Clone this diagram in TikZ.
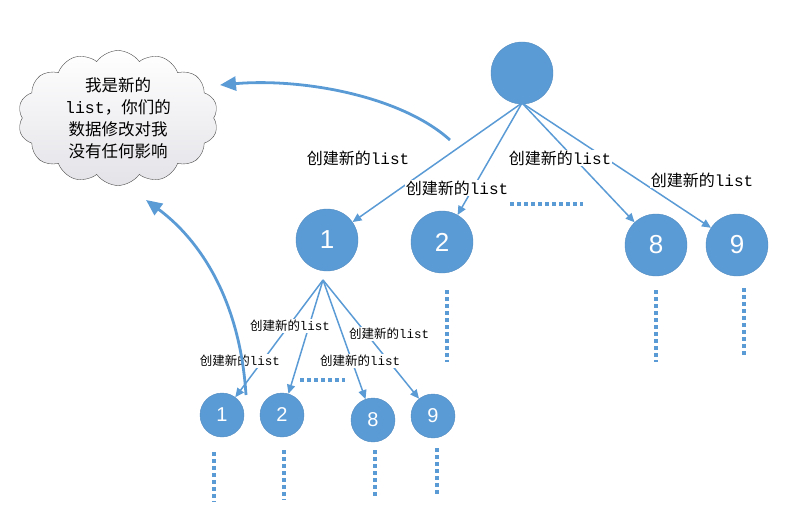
\documentclass[tikz,border=0pt]{standalone}
\usepackage{fontspec}
\setmainfont{Liberation Sans}
\setmonofont{Liberation Mono}
\newfontfamily\cjk{Noto Sans CJK SC}
\usetikzlibrary{shapes.symbols,arrows.meta}
\definecolor{bl}{HTML}{5B9BD5}
\begin{document}
\begin{tikzpicture}[x=1pt,y=-1pt,
 big/.style={circle,fill=bl,draw=bl!90!black,minimum size=62pt,inner sep=0,text=white,font=\fontsize{26}{28}\selectfont},
 sm/.style={circle,fill=bl,draw=bl!90!black,minimum size=44pt,inner sep=0,text=white,font=\fontsize{20}{22}\selectfont},
 arr/.style={draw=bl,line width=1.5pt,-{Triangle[length=9pt,width=8pt]}},
 carr/.style={draw=bl,line width=2.8pt,-{Triangle[length=16pt,width=14pt]}},
 dots/.style={draw=bl,line width=3.5pt,dash pattern=on 3.5pt off 3.5pt},
 lab/.style={font=\fontsize{16}{18}\selectfont,inner sep=1pt,fill=white},
 slab/.style={font=\fontsize{12.5}{14}\selectfont,inner sep=1pt,fill=white}]
\useasboundingbox (0,0) rectangle (809,516);
\node[cloud,cloud puffs=14,cloud puff arc=110,aspect=1.5,inner sep=-6pt,minimum width=200pt,minimum height=135pt,draw=black!70,top color=white,bottom color=blue!10!gray!20,align=center,font=\fontsize{16.5}{22}\selectfont] (cl) at (118,118) {{\cjk 我是新的}\\\texttt{list}{\cjk ，你们的}\\{\cjk 数据修改对我}\\{\cjk 没有任何影响}};
\node[big] (t) at (522,73) {};
\node[big] (a1) at (327,240) {1};
\node[big] (a2) at (442,242) {2};
\node[big] (a8) at (656,245) {8};
\node[big] (a9) at (737,245) {9};
\node[sm] (b1) at (222,415) {1};
\node[sm] (b2) at (282,415) {2};
\node[sm] (b8) at (373,420) {8};
\node[sm] (b9) at (433,416) {9};
\coordinate (tb) at (522,103);
\coordinate (ab) at (323,280);
\draw[arr] (tb) -- (a1);
\draw[arr] (tb) -- (a2);
\draw[arr] (tb) -- (a8);
\draw[arr] (tb) -- (a9);
\draw[arr] (ab) -- (b1);
\draw[arr] (ab) -- (b2);
\draw[arr] (ab) -- (b8);
\draw[arr] (ab) -- (b9);
\node[lab] (l1) at (358,158) {{\cjk 创建新的}\texttt{list}};
\node[lab] (l2) at (457,188) {{\cjk 创建新的}\texttt{list}};
\node[lab] (l3) at (560,158) {{\cjk 创建新的}\texttt{list}};
\node[lab] (l4) at (702,180) {{\cjk 创建新的}\texttt{list}};
\node[slab] (m1) at (290,326) {{\cjk 创建新的}\texttt{list}};
\node[slab] (m2) at (240,361) {{\cjk 创建新的}\texttt{list}};
\node[slab] (m3) at (389,334) {{\cjk 创建新的}\texttt{list}};
\node[slab] (m4) at (360,361) {{\cjk 创建新的}\texttt{list}};
\coordinate (p1) at (447,290); \coordinate (p2) at (447,362);
\coordinate (q1) at (656,290); \coordinate (q2) at (656,362);
\coordinate (r1) at (744,288); \coordinate (r2) at (744,358);
\coordinate (h1) at (510,204); \coordinate (h2) at (583,204);
\coordinate (g1) at (300,380); \coordinate (g2) at (345,380);
\draw[dots] (p1)--(p2); \draw[dots] (q1)--(q2); \draw[dots] (r1)--(r2);
\draw[dots] (h1)--(h2); \draw[dots] (g1)--(g2);
\coordinate (s1) at (214,452); \coordinate (s2) at (214,502);
\coordinate (u1) at (284,450); \coordinate (u2) at (284,500);
\coordinate (v1) at (375,450); \coordinate (v2) at (375,497);
\coordinate (w1) at (437,448); \coordinate (w2) at (437,497);
\draw[dots] (s1)--(s2); \draw[dots] (u1)--(u2); \draw[dots] (v1)--(v2); \draw[dots] (w1)--(w2);
\coordinate (c1) at (450,140); \coordinate (c2) at (220,85);
\draw[carr] (c1) .. controls (400,95) and (300,78) .. (c2);
\coordinate (d1) at (246,395); \coordinate (d2) at (146,200);
\draw[carr] (d1) .. controls (240,300) and (200,240) .. (d2);
\end{tikzpicture}
\end{document}
